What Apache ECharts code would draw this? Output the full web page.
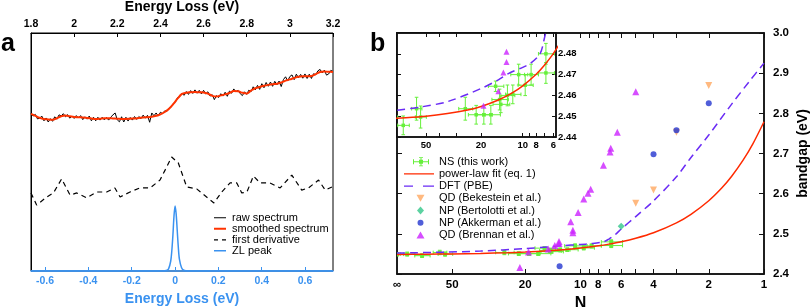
<!DOCTYPE html>
<html><head><meta charset="utf-8">
<script src="https://cdn.jsdelivr.net/npm/echarts@6/dist/echarts.min.js"></script>
<style>html,body{margin:0;padding:0;background:#fff}#c{width:810px;height:307px}</style>
</head><body><div id="c"></div>
<script>
// ---------- Panel a data ----------
var rawStart = 1.80, rawStep = 0.01;
var rawSpectrum = [
66.3,65.1,65.8,63.9,64.2,65.1,63.1,64.3,62.6,64.0,
62.9,64.8,63.8,65.6,65.2,66.1,64.8,65.7,64.2,65.1,
64.1,65.3,64.3,65.3,63.6,64.8,63.8,65.1,63.1,64.6,
63.1,64.6,63.4,64.6,63.5,64.5,63.4,64.7,65.6,66.4,
63.5,62.7,64.8,62.6,64.6,63.0,64.5,63.4,64.9,63.7,
64.9,64.0,65.5,64.2,65.4,62.5,66.4,65.2,66.4,65.1,
66.7,66.1,67.3,67.1,68.5,68.9,70.4,71.1,72.9,73.3,
74.7,73.8,75.4,74.2,75.8,74.6,76.1,74.7,75.9,74.4,
75.9,74.4,75.3,73.5,74.1,72.0,73.7,72.9,74.5,73.5,
75.1,73.4,75.6,74.7,76.5,75.3,75.9,74.5,73.7,75.3,
74.2,76.0,75.3,77.4,76.1,78.0,76.3,78.7,77.0,79.2,
77.6,79.4,77.6,79.7,78.2,79.8,77.5,80.4,81.6,79.9,
81.7,82.4,80.4,82.7,81.2,82.6,81.0,82.8,80.9,82.7,
80.9,82.9,82.4,84.1,84.7,83.2,84.4,82.3,82.8,84.3,
83.8];
var smoothStart = 1.80, smoothStep = 0.02;
var smoothedSpectrum = [66.0,65.2,64.4,63.9,63.7,63.6,64.2,65.0,65.3,65.0,64.7,64.6,64.5,64.3,64.1,63.9,64.0,64.2,64.2,64.1,64.0,63.9,63.9,64.0,64.1,64.3,64.5,64.6,64.8,65.2,65.8,66.8,68.2,70.2,72.5,74.4,74.9,75.1,75.2,75.1,75.0,74.5,73.6,73.3,73.8,74.2,74.8,75.6,75.5,74.9,74.6,75.8,76.8,77.3,77.8,78.2,78.5,78.7,79.2,80.0,80.5,81.1,81.6,81.8,81.8,81.9,82.7,83.6,83.8,83.7,83.6];
var derivE = [1.800,1.826,1.873,1.904,1.942,1.981,2.012,2.058,2.104,2.151,2.189,2.213,2.259,2.305,2.352,2.398,2.429,2.452,2.483,2.522,2.568,2.614,2.648,2.684,2.723,2.754,2.777,2.801,2.831,2.862,2.908,2.955,3.009,3.055,3.086,3.133,3.164,3.195];
var derivV = [32.8,27.7,31.1,32.8,38.7,31.9,32.8,30.7,33.2,33.2,34.9,31.1,33.2,34.9,34.9,38.2,43.7,47.9,45.4,35.3,34.5,31.1,28.6,33.2,37.0,37.0,32.8,33.2,39.9,37.0,37.0,34.9,40.3,34.0,34.9,38.2,34.0,35.3];
var zlE = [-0.665,-0.06,-0.04,-0.03,-0.02,-0.015,-0.01,-0.005,0,0.005,0.01,0.015,0.02,0.03,0.04,0.06,0.729];
var zlV = [0,0,0.2,0.9,4.2,8.5,15,23,27.3,24,17,10,5,1.4,0.4,0.05,0];
var bottomTicks = [-0.6,-0.4,-0.2,0,0.2,0.4,0.6];

// ---------- Panel b data ----------
var nsN  = [100,88,73,58.5,54.7,26,21.7,19.1,17,15.7,14.7,14.4,12.9,11.8,10.7,9.6,8.7,6.8,6.8];
var nsE  = [2.4490,2.4496,2.4456,2.4536,2.4496,2.4536,2.4507,2.4507,2.4507,2.4644,2.4580,2.4557,2.4600,2.4605,2.4700,2.4649,2.4700,2.4800,2.4708];
var nsDN = [8,8,7,5,5,3,3,2.5,2.5,2,2,2,1.5,1.5,1.5,1.2,1,0.9,0.9];
var nsDE = [0.004,0.005,0.0045,0.0055,0.0053,0.0055,0.0045,0.0045,0.0045,0.0025,0.005,0.004,0.005,0.0045,0.005,0.005,0.005,0.005,0.005];
var fitN = [100,70,50,35,25,20,15,12,10,8,7,6,5,4,3,2.5,2,1.7,1.5,1.3,1.15,1];
var fitE = [2.4488,2.4493,2.4500,2.4513,2.4530,2.4547,2.4578,2.4611,2.4646,2.4702,2.4744,2.4802,2.4889,2.5026,2.5274,2.5486,2.5825,2.614,2.6434,2.6834,2.724,2.779];
var dftN = [100,81,55,35,20,15,12.7,10,8.8,7.5,7,6.5,6,5,4,3,2.5,2,1.5,1.2,1];
var dftE = [2.4522,2.4528,2.4544,2.4570,2.4633,2.4675,2.4705,2.4735,2.4754,2.4800,2.4870,2.4970,2.5120,2.5430,2.5820,2.6420,2.6900,2.7460,2.8230,2.8800,2.9250];
var bekN = [2,3,4,5];       var bekE = [2.869,2.753,2.609,2.576];
var bertN = [6];            var bertE = [2.519];
var akkN = [2,3,4,13];      var akkE = [2.825,2.758,2.698,2.419];
var brenN = [5,6.3,6.84,6.9,7.5,8.8,9.1,9.6,10.3,11.3,11.0,11.0,13.1,13.1,13.8,15,19.2,21.4];
var brenE = [2.854,2.753,2.713,2.704,2.671,2.611,2.601,2.587,2.553,2.530,2.509,2.503,2.481,2.476,2.471,2.462,2.455,2.416];
var mainXLabels = [100,50,20,10,8,6,4,2,1];
var mainXTicks = [1,2,3,4,5,6,7,8,9,10,20,50];
var insetXLabels = [6,8,10,20,50];
var insetXTicks = [6,7,8,9,10,20,30,40,50];
var insetYLabels = [2.44,2.45,2.46,2.47,2.48];

// ---------- helpers ----------
function pairs(xs, ys) { return xs.map(function (x, i) { return [x, ys[i]]; }); }
function grid(start, step, ys) { return ys.map(function (y, i) { return [+(start + i * step).toFixed(4), y]; }); }
var FONT = 'Liberation Sans, Arial, sans-serif';
var BLUE = '#3a92f0', GREEN = '#66f03a', RED = '#ff2a00', PURPLE = '#6a2bf5';
var nsData = nsN.map(function (n, i) { return [n, nsE[i], nsDN[i], nsDE[i]]; });
function makeErr(size, cap) {
  return function (params, api) {
    var n = api.value(0), e = api.value(1), dn = api.value(2), de = api.value(3);
    var c = api.coord([n, e]);
    var xl = api.coord([n + dn, e])[0];
    var xr = api.coord([n - dn, e])[0];
    var yt = api.coord([n, e + de])[1];
    var yb = api.coord([n, e - de])[1];
    var st = { stroke: GREEN, lineWidth: 1 };
    return { type: 'group', children: [
      { type: 'line', shape: { x1: xl, y1: c[1], x2: xr, y2: c[1] }, style: st },
      { type: 'line', shape: { x1: xl, y1: c[1] - cap, x2: xl, y2: c[1] + cap }, style: st },
      { type: 'line', shape: { x1: xr, y1: c[1] - cap, x2: xr, y2: c[1] + cap }, style: st },
      { type: 'line', shape: { x1: c[0], y1: yt, x2: c[0], y2: yb }, style: st },
      { type: 'line', shape: { x1: c[0] - cap, y1: yt, x2: c[0] + cap, y2: yt }, style: st },
      { type: 'line', shape: { x1: c[0] - cap, y1: yb, x2: c[0] + cap, y2: yb }, style: st },
      { type: 'rect', shape: { x: c[0] - size / 2, y: c[1] - size / 2, width: size, height: size }, style: { fill: GREEN } }
    ] };
  };
}
// legend icons (30 x 10 boxes for panel b, corner specks fix the bounding box)
var BOX = ' M0,0H0.01V0.01H0Z M29.99,9.99H30V10H29.99Z';
var ICON_NS = 'path://M9,4.5H25V5.5H9Z M9,2.5H10V7.5H9Z M24,2.5H25V7.5H24Z M16.5,0.5H17.5V9.5H16.5Z M15,0.5H19V1.3H15Z M15,8.7H19V9.5H15Z M15,3H19V7H15Z' + BOX;
var ICON_RED = 'path://M0,4.3H30V5.7H0Z' + BOX;
var ICON_DFT = 'path://M0,4.3H9V5.7H0Z M19,4.3H30V5.7H19Z' + BOX;
var ICON_DOWN = 'path://M12.5,1.5H20.5L16.5,8.5Z' + BOX;
var ICON_UP = 'path://M16.5,1.5L20.5,8.5H12.5Z' + BOX;
var ICON_DIAM = 'path://M16.5,1L20,5L16.5,9L13,5Z' + BOX;
var ICON_CIRC = 'path://M13.5,5A3,3 0 1,0 19.5,5A3,3 0 1,0 13.5,5Z' + BOX;
var BOXA = ' M0,0H0.01V0.01H0Z M13.99,7.99H14V8H13.99Z';
var ICON_A1 = 'path://M1,3.5H13V4.5H1Z' + BOXA;
var ICON_A2 = 'path://M1,3H13V5H1Z' + BOXA;
var ICON_A3 = 'path://M1,3.4H5V4.6H1Z M9,3.4H13V4.6H9Z' + BOXA;
var ICON_A4 = 'path://M1,3.3H13V4.7H1Z' + BOXA;

var lbl = function (size, color) { return { fontFamily: FONT, fontWeight: 'bold', fontSize: size, color: color || '#000' }; };

var option = {
  backgroundColor: '#fff',
  animation: false,
  grid: [
    { left: 31, top: 33, width: 302, height: 238, show: true, borderColor: '#000', borderWidth: 1, outerBoundsMode: 'none' },
    { left: 397, top: 33, width: 367, height: 241, show: true, borderColor: '#111', borderWidth: 1.5, outerBoundsMode: 'none' },
    { left: 397, top: 33, width: 159, height: 104, show: true, borderColor: '#111', borderWidth: 1.5, backgroundColor: '#fff', z: 10, outerBoundsMode: 'none' }
  ],
  xAxis: [
    { gridIndex: 0, type: 'value', position: 'top', min: 1.8, max: 3.2, interval: 0.2,
      axisLine: { onZero: false, lineStyle: { color: '#000', width: 1 } },
      axisTick: { inside: true, length: 4, lineStyle: { color: '#000' } },
      axisLabel: Object.assign(lbl(10.5), { margin: 3 }), splitLine: { show: false },
      name: 'Energy Loss (eV)', nameLocation: 'middle', nameGap: 18, nameTextStyle: lbl(14) },
    { gridIndex: 0, type: 'value', position: 'bottom', min: -0.665, max: 0.729,
      axisLine: { onZero: false, lineStyle: { color: BLUE, width: 1.5 } },
      axisTick: { inside: true, length: 4, customValues: bottomTicks, lineStyle: { color: BLUE } },
      axisLabel: Object.assign(lbl(10.5, BLUE), { margin: 5, customValues: bottomTicks,
        formatter: function (v) { return Math.abs(v) < 1e-9 ? '0' : (+v).toFixed(1); } }),
      splitLine: { show: false },
      name: 'Energy Loss (eV)', nameLocation: 'middle', nameGap: 19, nameTextStyle: lbl(14, BLUE) },
    { gridIndex: 1, type: 'log', logBase: 10, position: 'bottom', min: 1, max: 100, inverse: true,
      axisLine: { onZero: false, lineStyle: { color: '#111', width: 1.5 } },
      axisTick: { inside: true, length: 5, customValues: mainXTicks, lineStyle: { color: '#111' } },
      axisLabel: Object.assign(lbl(11.5), { margin: 5, customValues: mainXLabels,
        formatter: function (v) { return Math.round(v) === 100 ? '\u221E' : String(Math.round(v)); } }),
      splitLine: { show: false }, minorTick: { show: false },
      name: 'N', nameLocation: 'middle', nameGap: 14, nameTextStyle: lbl(16) },
    { gridIndex: 1, type: 'log', logBase: 10, position: 'top', min: 1, max: 100, inverse: true,
      axisLine: { onZero: false, lineStyle: { color: '#111', width: 1.5 } },
      axisTick: { inside: true, length: 5, customValues: mainXTicks, lineStyle: { color: '#111' } },
      axisLabel: { show: false }, splitLine: { show: false } },
    { gridIndex: 2, type: 'log', logBase: 10, position: 'bottom', min: 5.75, max: 81, inverse: true, z: 11,
      axisLine: { onZero: false, lineStyle: { color: '#111', width: 1.5 } },
      axisTick: { inside: true, length: 4, customValues: insetXTicks, lineStyle: { color: '#111' } },
      axisLabel: Object.assign(lbl(9.5), { margin: 3, customValues: insetXLabels,
        formatter: function (v) { return String(Math.round(v)); } }),
      splitLine: { show: false } },
    { gridIndex: 2, type: 'log', logBase: 10, position: 'top', min: 5.75, max: 81, inverse: true, z: 11,
      axisLine: { onZero: false, lineStyle: { color: '#111', width: 1.5 } },
      axisTick: { inside: true, length: 4, customValues: insetXTicks, lineStyle: { color: '#111' } },
      axisLabel: { show: false }, splitLine: { show: false } }
  ],
  yAxis: [
    { gridIndex: 0, type: 'value', min: 0, max: 100, position: 'left',
      axisLine: { show: true, onZero: false, lineStyle: { color: '#000', width: 1 } }, axisTick: { show: false },
      axisLabel: { show: false }, splitLine: { show: false } },
    { gridIndex: 1, type: 'value', min: 2.4, max: 3.0, interval: 0.1, position: 'right',
      axisLine: { show: true, onZero: false, lineStyle: { color: '#111', width: 1.5 } },
      axisTick: { inside: true, length: 5, lineStyle: { color: '#111' } },
      axisLabel: Object.assign(lbl(11.5), { margin: 9, formatter: function (v) { return (+v).toFixed(1); } }),
      splitLine: { show: false },
      name: 'bandgap (eV)', nameLocation: 'middle', nameGap: 32, nameTextStyle: lbl(14) },
    { gridIndex: 1, type: 'value', min: 2.4, max: 3.0, interval: 0.1, position: 'left',
      axisLine: { show: true, onZero: false, lineStyle: { color: '#111', width: 1.5 } },
      axisTick: { inside: true, length: 5, lineStyle: { color: '#111' } },
      axisLabel: { show: false }, splitLine: { show: false } },
    { gridIndex: 2, type: 'value', min: 2.44, max: 2.49, position: 'right', z: 11,
      axisLine: { show: true, onZero: false, lineStyle: { color: '#111', width: 1.5 } },
      axisTick: { inside: true, length: 4, customValues: insetYLabels, lineStyle: { color: '#111' } },
      axisLabel: Object.assign(lbl(9.5), { margin: 2, customValues: insetYLabels,
        formatter: function (v) { return (+v).toFixed(2); } }),
      splitLine: { show: false } },
    { gridIndex: 2, type: 'value', min: 2.44, max: 2.49, position: 'left', z: 11,
      axisLine: { show: true, onZero: false, lineStyle: { color: '#111', width: 1.5 } },
      axisTick: { inside: true, length: 4, customValues: insetYLabels, lineStyle: { color: '#111' } },
      axisLabel: { show: false }, splitLine: { show: false } }
  ],
  legend: [
    { left: 213, top: 212.3, padding: 0, orient: 'vertical', itemWidth: 14, itemHeight: 8, itemGap: 0,
      selectedMode: false, symbolKeepAspect: true,
      textStyle: { fontFamily: FONT, fontSize: 11, color: '#000', lineHeight: 10.8 },
      data: [{ name: 'raw spectrum', icon: ICON_A1 }, { name: 'smoothed spectrum', icon: ICON_A2 },
             { name: 'first derivative', icon: ICON_A3 }, { name: 'ZL peak', icon: ICON_A4 }] },
    { left: 404, top: 155.7, padding: 0, orient: 'vertical', itemWidth: 30, itemHeight: 10, itemGap: 0.2,
      selectedMode: false, symbolKeepAspect: true, z: 12,
      textStyle: { fontFamily: FONT, fontSize: 11, color: '#000', lineHeight: 12 },
      data: [{ name: 'NS (this work)', icon: ICON_NS }, { name: 'power-law fit (eq. 1)', icon: ICON_RED },
             { name: 'DFT (PBE)', icon: ICON_DFT }, { name: 'QD (Bekestein et al.)', icon: ICON_DOWN },
             { name: 'NP (Bertolotti et al.)', icon: ICON_DIAM }, { name: 'NP (Akkerman et al.)', icon: ICON_CIRC },
             { name: 'QD (Brennan et al.)', icon: ICON_UP }] }
  ],
  graphic: [
    { type: 'text', x: 1, y: 44, style: { text: 'a', font: 'bold 25px ' + FONT, fill: '#000', verticalAlign: 'middle' } },
    { type: 'text', x: 370, y: 44, style: { text: 'b', font: 'bold 25px ' + FONT, fill: '#000', verticalAlign: 'middle' } }
  ],
  series: [
    { name: 'raw spectrum', type: 'line', xAxisIndex: 0, yAxisIndex: 0, symbol: 'none', z: 3,
      lineStyle: { color: '#000', width: 1 }, itemStyle: { color: '#000' }, data: grid(rawStart, rawStep, rawSpectrum) },
    { name: 'smoothed spectrum', type: 'line', xAxisIndex: 0, yAxisIndex: 0, symbol: 'none', smooth: 0.4, z: 4,
      lineStyle: { color: '#ff3300', width: 2 }, itemStyle: { color: '#ff3300' }, data: grid(smoothStart, smoothStep, smoothedSpectrum) },
    { name: 'first derivative', type: 'line', xAxisIndex: 0, yAxisIndex: 0, symbol: 'none', z: 3,
      lineStyle: { color: '#000', width: 1.2, type: [5, 4] }, itemStyle: { color: '#000' }, data: pairs(derivE, derivV) },
    { name: 'ZL peak', type: 'line', xAxisIndex: 1, yAxisIndex: 0, symbol: 'none', smooth: 0.3, z: 3,
      lineStyle: { color: BLUE, width: 1.5 }, itemStyle: { color: BLUE }, data: pairs(zlE, zlV) },

    // main panel b
    { name: 'NS (this work)', type: 'custom', xAxisIndex: 2, yAxisIndex: 1, clip: true, z: 3,
      itemStyle: { color: GREEN }, renderItem: makeErr(4, 1.8), encode: { x: 0, y: 1 }, data: nsData },
    { name: 'power-law fit (eq. 1)', type: 'line', xAxisIndex: 2, yAxisIndex: 1, symbol: 'none', smooth: 0.3, z: 4,
      lineStyle: { color: RED, width: 1.5 }, itemStyle: { color: RED }, data: pairs(fitN, fitE) },
    { name: 'DFT (PBE)', type: 'line', xAxisIndex: 2, yAxisIndex: 1, symbol: 'none', smooth: 0.3, z: 4,
      lineStyle: { color: PURPLE, width: 1.5, type: [8, 5] }, itemStyle: { color: PURPLE }, data: pairs(dftN, dftE) },
    { name: 'QD (Bekestein et al.)', type: 'scatter', xAxisIndex: 2, yAxisIndex: 1, symbol: 'triangle', symbolRotate: 180, symbolSize: 7, z: 5,
      itemStyle: { color: '#ffa860' }, data: pairs(bekN, bekE) },
    { name: 'NP (Bertolotti et al.)', type: 'scatter', xAxisIndex: 2, yAxisIndex: 1, symbol: 'diamond', symbolSize: 7, z: 5,
      itemStyle: { color: '#33c78a' }, data: pairs(bertN, bertE) },
    { name: 'NP (Akkerman et al.)', type: 'scatter', xAxisIndex: 2, yAxisIndex: 1, symbol: 'circle', symbolSize: 6, z: 5,
      itemStyle: { color: '#2436d0' }, data: pairs(akkN, akkE) },
    { name: 'QD (Brennan et al.)', type: 'scatter', xAxisIndex: 2, yAxisIndex: 1, symbol: 'triangle', symbolSize: 7, z: 5,
      itemStyle: { color: '#cc22ff' }, data: pairs(brenN, brenE) },

    // inset
    { name: 'NS (this work)', type: 'custom', xAxisIndex: 4, yAxisIndex: 3, clip: true, z: 12,
      itemStyle: { color: GREEN }, renderItem: makeErr(3.5, 1.8), encode: { x: 0, y: 1 }, data: nsData },
    { name: 'power-law fit (eq. 1)', type: 'line', xAxisIndex: 4, yAxisIndex: 3, symbol: 'none', smooth: 0.3, z: 13,
      lineStyle: { color: RED, width: 1.5 }, itemStyle: { color: RED }, data: pairs(fitN, fitE) },
    { name: 'DFT (PBE)', type: 'line', xAxisIndex: 4, yAxisIndex: 3, symbol: 'none', smooth: 0.3, z: 13,
      lineStyle: { color: PURPLE, width: 1.5, type: [8, 5] }, itemStyle: { color: PURPLE }, data: pairs(dftN, dftE) },
    { name: 'QD (Brennan et al.)', type: 'scatter', xAxisIndex: 4, yAxisIndex: 3, symbol: 'triangle', symbolSize: 6, z: 14,
      itemStyle: { color: '#cc22ff' }, data: pairs(brenN, brenE) }
  ]
};
var chart = echarts.init(document.getElementById('c'), null, { renderer: 'canvas' });
chart.setOption(option);
</script></body></html>
